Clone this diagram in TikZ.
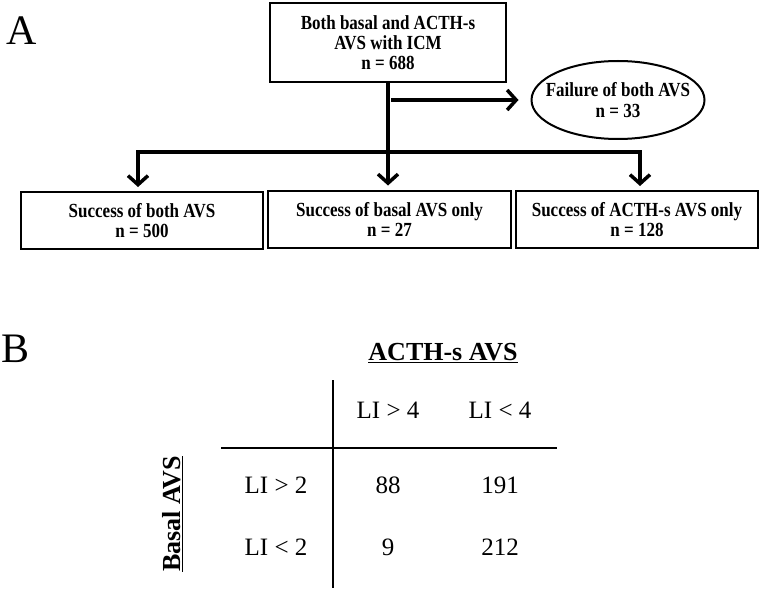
\documentclass[tikz,border=0pt]{standalone}
\usepackage{fontspec}
\setmainfont{Liberation Serif}
\newfontfamily\narrowfont[FakeStretch=0.85]{Liberation Serif}
\usetikzlibrary{positioning, arrows.meta, shapes}
\newcommand{\tbf}[1]{\textbf{#1}}

\begin{document}
\begin{tikzpicture}[
		x=1pt, y=-1pt,
		>={Straight Barb[length=9pt, width=20pt]},
		box/.style={draw, rectangle, line width=2pt, minimum width=242pt, minimum height=57pt, align=center, font=\narrowfont\fontsize{20}{20}\selectfont\bfseries},
		flow/.style={line width=3.5pt, line cap=rect},
		grid/.style={line width=2pt},
		cell/.style={font=\fontsize{25}{30}\selectfont},
	]
	\useasboundingbox (0,0) rectangle (763,591);

	% panel A
	\node[font=\fontsize{42}{42}\selectfont] (labA) at (22,31) {A};
	\node[box, minimum width=236pt, minimum height=79pt] (start) at (388,42.5) {Both basal and ACTH-s\\AVS with ICM\\n = 688};
	\node[draw, ellipse, line width=2pt, minimum width=173pt, minimum height=78pt] (fail) at (618,100) {};
	\node[align=center, font=\narrowfont\fontsize{20}{21}\selectfont\bfseries] (failtext) at (fail.center) {Failure of both AVS\\n = 33};

	\node[box] (both) at (142,220.5) {Success of both AVS\\n = 500};
	\node[box, minimum width=243pt] (basal) at (389.5,219) {Success of basal AVS only\\n = 27};
	\node[box] (acthonly) at (637,219.5) {Success of ACTH-s AVS only\\n = 128};

	\coordinate (split) at (388,152);
	\coordinate (bl) at (138,152);
	\coordinate (br) at (640,152);
	\coordinate (side) at (393,100);

	\draw [flow] (start.south) -- (split);
	\draw [flow] (bl) -- (br);
	\draw [flow, ->, shorten >=12pt] (side) -- (fail.west);
	\draw [flow, ->, shorten >=4pt] (bl) -- (bl |- both.north);
	\draw [flow, ->, shorten >=4pt] (split) -- (split |- basal.north);
	\draw [flow, ->, shorten >=4pt] (br) -- (br |- acthonly.north);

	% panel B
	\node[font=\fontsize{42}{42}\selectfont] (labB) at (16,349) {B};
	\node[font=\fontsize{26}{30}\selectfont\bfseries] (acth) at (443,353) {\underline{ACTH-s AVS}};
	\node[font=\fontsize{26}{30}\selectfont\bfseries, rotate=90] (basalavs) at (173,514) {\underline{Basal AVS}};

	\coordinate (vtop) at (333,380);
	\coordinate (vbot) at (333,588);
	\coordinate (hleft) at (221,448);
	\coordinate (hright) at (557,448);
	\draw [grid] (vtop) -- (vbot);
	\draw [grid] (hleft) -- (hright);

	\node[cell] (c1) at (388,410) {LI > 4};
	\node[cell] (c2) at (500,410) {LI < 4};
	\node[cell] (r1) at (276,485) {LI > 2};
	\node[cell] (r2) at (276,547) {LI < 2};
	\node[cell] (v11) at (388,485) {88};
	\node[cell] (v12) at (500,485) {191};
	\node[cell] (v21) at (388,547) {9};
	\node[cell] (v22) at (500,547) {212};
\end{tikzpicture}
\end{document}
